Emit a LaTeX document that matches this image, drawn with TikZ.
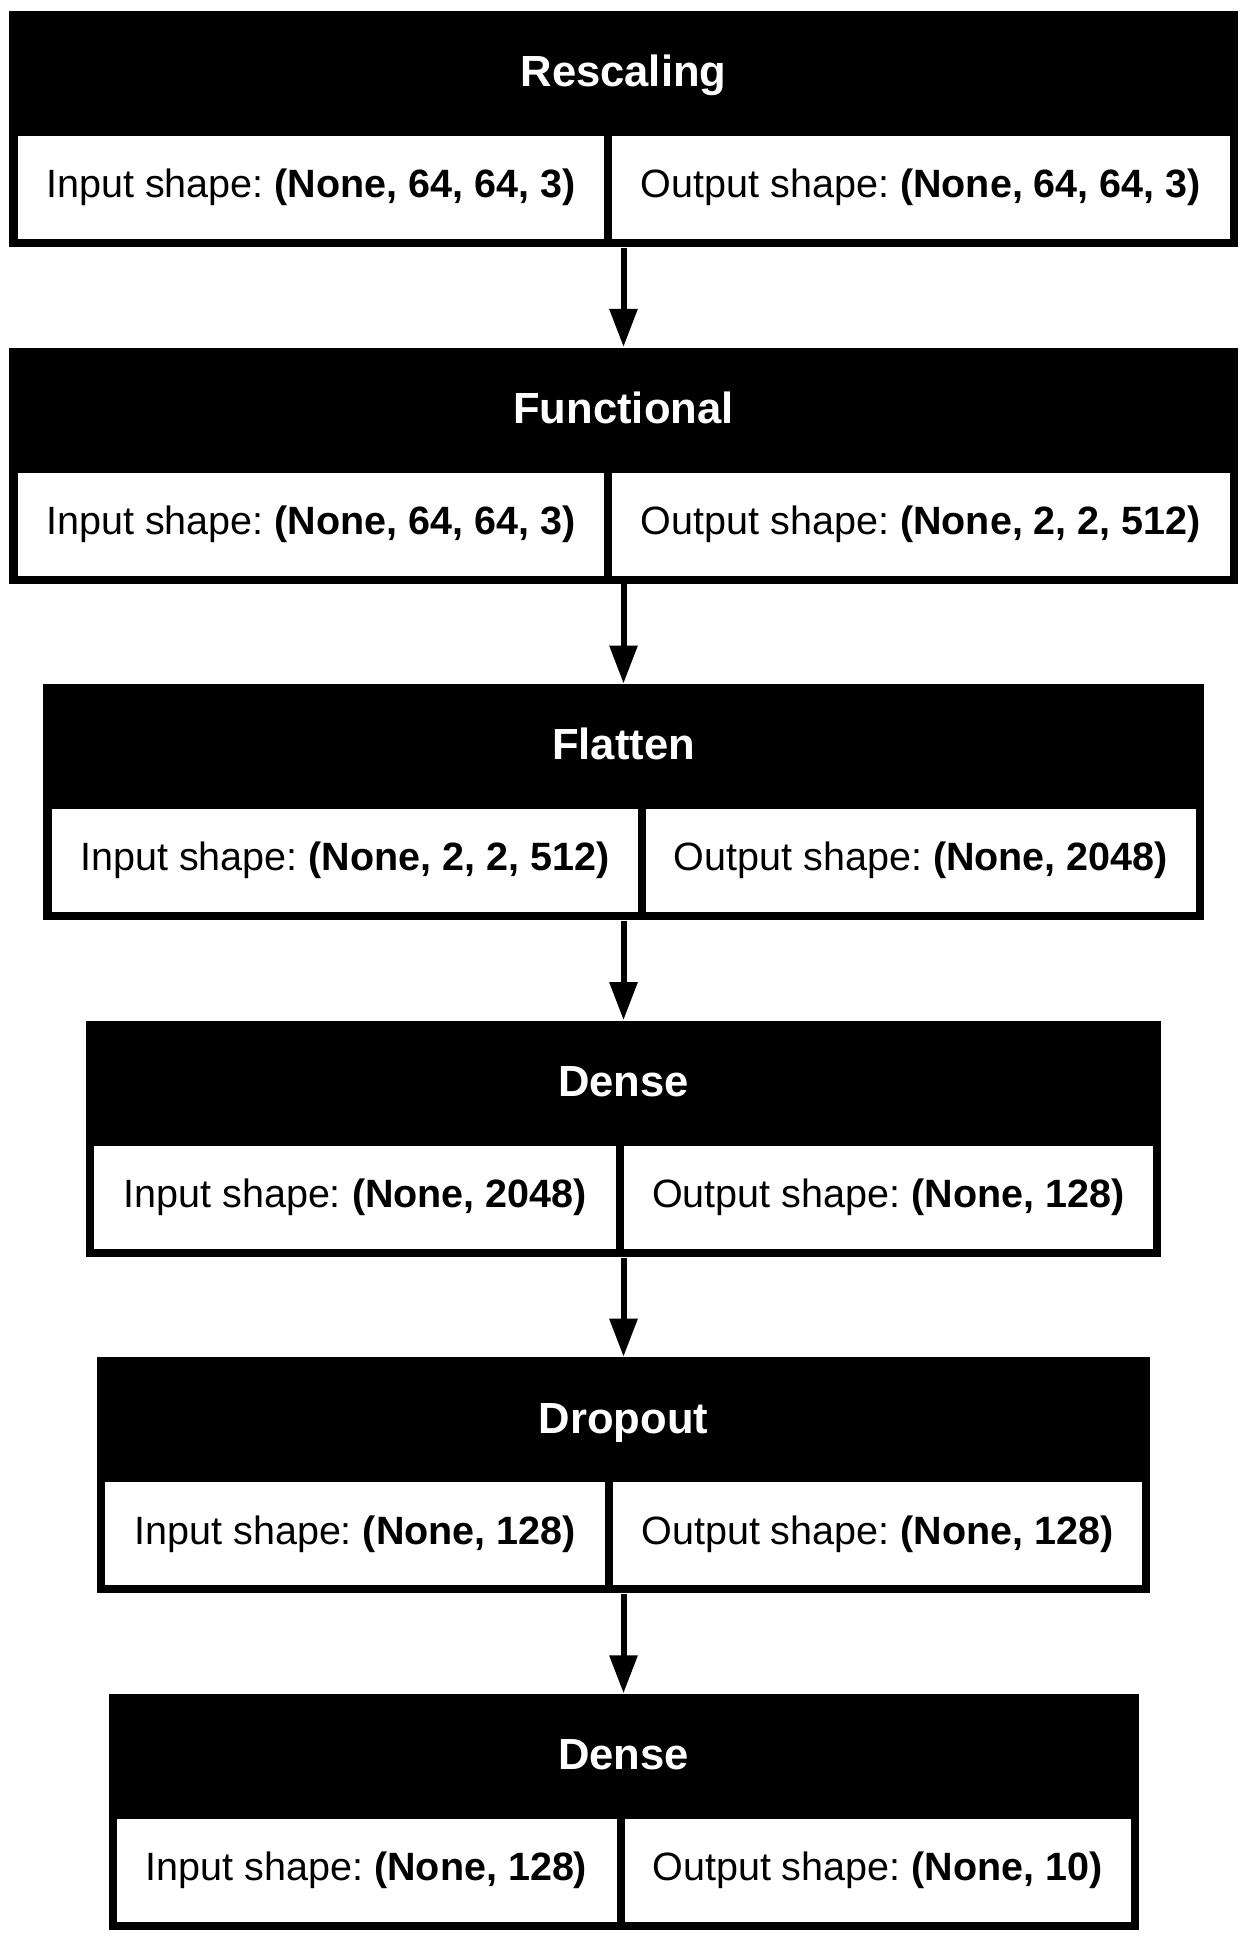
\documentclass[tikz,border=0pt]{standalone}
\usepackage{fontspec}
\setmainfont{Liberation Sans}
\usepackage{tikz}
\usetikzlibrary{arrows.meta,positioning}
\tikzset{
  layerbox/.style={rectangle, fill=black, minimum height=2.36cm, inner sep=0pt}
}
\tikzset{
  layertitle/.style={text=white, inner sep=0pt, anchor=base, font=\fontsize{12.4}{14}\selectfont\bfseries},
  shapecell/.style={rectangle, fill=white, minimum height=1.03cm, inner sep=0pt, text height=0.76em, text depth=0.18em, font=\fontsize{11.24}{13}\selectfont\frenchspacing},
  flow/.style={-{Triangle[length=3.8mm, width=2.7mm]}, line width=0.6mm, black}
}

\begin{document}
\begin{tikzpicture}
        \useasboundingbox (0,0) rectangle (12.47,-19.39);
        % Black layer boxes, one under another
        \node[layerbox, minimum width=12.28cm] (rescaling) at (6.235,-1.29) {};
        \node[layerbox, minimum width=12.28cm] (functional) at (6.235,-4.656) {};
        \node[layerbox, minimum width=11.6cm] (flatten) at (6.235,-8.022) {};
        \node[layerbox, minimum width=10.741cm] (dense1) at (6.235,-11.388) {};
        \node[layerbox, minimum width=10.525cm] (dropout) at (6.235,-14.754) {};
        \node[layerbox, minimum width=10.3cm] (dense2) at (6.235,-18.12) {};

        % Layer names in the top band
        \node[layertitle] (rescaling-name) at ([yshift=-0.763cm]rescaling.north) {Rescaling};
        \node[layertitle] (functional-name) at ([yshift=-0.763cm]functional.north) {Functional};
        \node[layertitle] (flatten-name) at ([yshift=-0.763cm]flatten.north) {Flatten};
        \node[layertitle] (dense1-name) at ([yshift=-0.763cm]dense1.north) {Dense};
        \node[layertitle] (dropout-name) at ([yshift=-0.763cm]dropout.north) {Dropout};
        \node[layertitle] (dense2-name) at ([yshift=-0.763cm]dense2.north) {Dense};

        % Input and output shape cells
        \node[shapecell, minimum width=5.868cm, anchor=south west] (rescaling-in) at ([shift={(0.08,0.08)}]rescaling.south west) {Input shape: \textbf{(None, 64, 64, 3)}};
        \node[shapecell, minimum width=6.172cm, anchor=south east] (rescaling-out) at ([shift={(-0.08,0.08)}]rescaling.south east) {Output shape: \textbf{(None, 64, 64, 3)}};

        \node[shapecell, minimum width=5.868cm, anchor=south west] (functional-in) at ([shift={(0.08,0.08)}]functional.south west) {Input shape: \textbf{(None, 64, 64, 3)}};
        \node[shapecell, minimum width=6.172cm, anchor=south east] (functional-out) at ([shift={(-0.08,0.08)}]functional.south east) {Output shape: \textbf{(None, 2, 2, 512)}};

        \node[shapecell, minimum width=5.868cm, anchor=south west] (flatten-in) at ([shift={(0.08,0.08)}]flatten.south west) {Input shape: \textbf{(None, 2, 2, 512)}};
        \node[shapecell, minimum width=5.492cm, anchor=south east] (flatten-out) at ([shift={(-0.08,0.08)}]flatten.south east) {Output shape: \textbf{(None, 2048)}};

        \node[shapecell, minimum width=5.216cm, anchor=south west] (dense1-in) at ([shift={(0.08,0.08)}]dense1.south west) {Input shape: \textbf{(None, 2048)}};
        \node[shapecell, minimum width=5.285cm, anchor=south east] (dense1-out) at ([shift={(-0.08,0.08)}]dense1.south east) {Output shape: \textbf{(None, 128)}};

        \node[shapecell, minimum width=5.0cm, anchor=south west] (dropout-in) at ([shift={(0.08,0.08)}]dropout.south west) {Input shape: \textbf{(None, 128)}};
        \node[shapecell, minimum width=5.285cm, anchor=south east] (dropout-out) at ([shift={(-0.08,0.08)}]dropout.south east) {Output shape: \textbf{(None, 128)}};

        \node[shapecell, minimum width=5.0cm, anchor=south west] (dense2-in) at ([shift={(0.08,0.08)}]dense2.south west) {Input shape: \textbf{(None, 128)}};
        \node[shapecell, minimum width=5.06cm, anchor=south east] (dense2-out) at ([shift={(-0.08,0.08)}]dense2.south east) {Output shape: \textbf{(None, 10)}};

        % Connect the layers top to bottom
        \draw[flow] (rescaling) -- (functional);
        \draw[flow] (functional) -- (flatten);
        \draw[flow] (flatten) -- (dense1);
        \draw[flow] (dense1) -- (dropout);
        \draw[flow] (dropout) -- (dense2);
    \end{tikzpicture}
\end{document}
